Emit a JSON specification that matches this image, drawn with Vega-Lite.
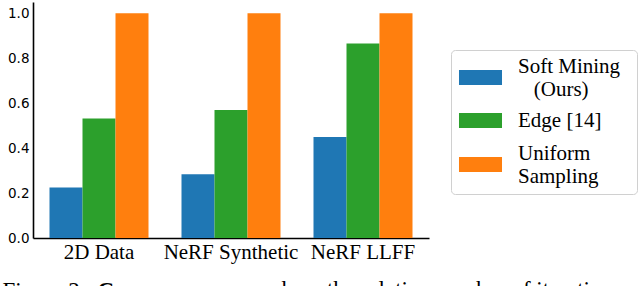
{
  "$schema": "https://vega.github.io/schema/vega-lite/v6.json",
  "width": 396,
  "height": 236,
  "autosize": {"type": "pad"},
  "padding": {"left": 2, "top": 2, "right": 0, "bottom": 0},
  "background": "white",
  "data": {
    "values": [
      {"dataset": "2D Data", "method": "Soft Mining (Ours)", "value": 0.225},
      {"dataset": "2D Data", "method": "Edge [14]", "value": 0.532},
      {"dataset": "2D Data", "method": "Uniform Sampling", "value": 1.0},
      {"dataset": "NeRF Synthetic", "method": "Soft Mining (Ours)", "value": 0.284},
      {"dataset": "NeRF Synthetic", "method": "Edge [14]", "value": 0.570},
      {"dataset": "NeRF Synthetic", "method": "Uniform Sampling", "value": 1.0},
      {"dataset": "NeRF LLFF", "method": "Soft Mining (Ours)", "value": 0.449},
      {"dataset": "NeRF LLFF", "method": "Edge [14]", "value": 0.865},
      {"dataset": "NeRF LLFF", "method": "Uniform Sampling", "value": 1.0}
    ]
  },
  "title": {
    "text": "we show the relative number of iterations",
    "orient": "bottom",
    "anchor": "start",
    "frame": "group",
    "dx": 207,
    "offset": -5,
    "font": "Liberation Serif",
    "fontSize": 23,
    "fontWeight": "normal",
    "color": "black",
    "baseline": "alphabetic"
  },
  "mark": {"type": "bar"},
  "encoding": {
    "x": {
      "field": "dataset",
      "type": "nominal",
      "sort": ["2D Data", "NeRF Synthetic", "NeRF LLFF"],
      "scale": {"paddingInner": 0.25, "paddingOuter": 0.125},
      "axis": {
        "title": "Figure 2.",
        "titleFont": "Liberation Serif",
        "titleFontSize": 23,
        "titleFontWeight": "normal",
        "titleColor": "black",
        "titleAlign": "left",
        "titleBaseline": "alphabetic",
        "titleAnchor": "start",
        "titleX": -31,
        "titleY": 59,
        "labelAngle": 0,
        "labelFont": "Liberation Serif",
        "labelFontSize": 21,
        "labelColor": "black",
        "labelPadding": 3,
        "ticks": false,
        "domainColor": "black",
        "domainWidth": 1.6
      }
    },
    "xOffset": {
      "field": "method",
      "type": "nominal",
      "sort": ["Soft Mining (Ours)", "Edge [14]", "Uniform Sampling"]
    },
    "y": {
      "field": "value",
      "type": "quantitative",
      "scale": {"domain": [0, 1.05], "nice": false},
      "axis": {
        "title": "Convergence:",
        "titleFont": "Liberation Serif",
        "titleFontSize": 23,
        "titleFontWeight": "bold",
        "titleColor": "black",
        "titleAngle": 0,
        "titleAlign": "left",
        "titleBaseline": "alphabetic",
        "titleX": 64,
        "titleY": 295,
        "values": [0, 0.2, 0.4, 0.6, 0.8, 1.0],
        "format": ".1f",
        "labelFont": "DejaVu Sans",
        "labelFontSize": 13.5,
        "labelColor": "black",
        "labelPadding": 4,
        "ticks": false,
        "grid": false,
        "domainColor": "black",
        "domainWidth": 1.6
      }
    },
    "color": {
      "field": "method",
      "type": "nominal",
      "sort": ["Soft Mining (Ours)", "Edge [14]", "Uniform Sampling"],
      "scale": {
        "domain": ["Soft Mining (Ours)", "Edge [14]", "Uniform Sampling"],
        "range": ["#1f77b4", "#2ca02c", "#ff7f0e"]
      },
      "legend": {
        "title": null,
        "orient": "none",
        "legendX": 418,
        "legendY": 48,
        "symbolType": "M-1.049,-0.366H1.049V0.366H-1.049ZM0,1L0,1.001",
        "symbolSize": 1681,
        "symbolOffset": 2,
        "symbolStrokeWidth": 0,
        "symbolOpacity": 1,
        "labelFont": "Liberation Serif",
        "labelFontSize": 21,
        "labelOffset": 17,
        "labelColor": "black",
        "labelLimit": 300,
        "labelBaseline": {"expr": "datum.value == 'Edge [14]' ? 'middle' : 'line-bottom'"},
        "labelExpr": "datum.value == 'Soft Mining (Ours)' ? ['Soft Mining\u00a0\u2009\u200b', '\u200b\u00a0\u00a0\u00a0(Ours)'] : datum.value == 'Uniform Sampling' ? ['Uniform', 'Sampling'] : 'Edge [14]'",
        "rowPadding": 0,
        "padding": 7,
        "strokeColor": "#d0d0d0",
        "fillColor": "white",
        "cornerRadius": 4
      }
    }
  },
  "config": {"view": {"stroke": null}}
}
